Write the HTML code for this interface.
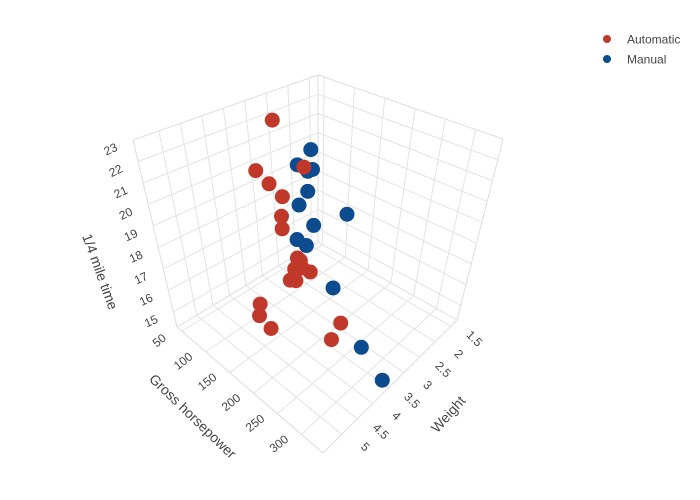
<!DOCTYPE html>
<html><head><meta charset="utf-8"><style>
html,body{margin:0;padding:0;background:#fff;}
svg{display:block;font-family:"Liberation Sans",sans-serif;}
</style></head><body>
<svg id="chart" width="700" height="500" viewBox="0 0 700 500">
<defs><clipPath id="sceneclip"><rect x="0" y="0" width="590" height="461"/></clipPath></defs>
<g id="scene" clip-path="url(#sceneclip)">
<g id="grid"></g>
<g id="ticks"></g>
<g id="titles">
<text x="0" y="0" transform="translate(99,272) rotate(70)" text-anchor="middle" dominant-baseline="middle" font-size="14" fill="#444">1/4 mile time</text>
<text x="0" y="0" transform="translate(192,417) rotate(44)" text-anchor="middle" dominant-baseline="middle" font-size="14" fill="#444">Gross horsepower</text>
<text x="0" y="0" transform="translate(449,415) rotate(-48)" text-anchor="middle" dominant-baseline="middle" font-size="14" fill="#444">Weight</text>
</g>
<g id="points"></g>
</g>
<g id="legend">
<g><circle cx="607" cy="39" r="4" fill="#BF382A"/><text x="627" y="43.5" font-size="12" fill="#444">Automatic</text></g>
<g><circle cx="607" cy="59" r="4" fill="#0C4B8E"/><text x="627" y="63.5" font-size="12" fill="#444">Manual</text></g>
</g>
</svg>
<script>
// mtcars data
const weights = [2.620,2.875,2.320,3.215,3.440,3.460,3.570,3.190,3.150,3.440,3.440,4.070,3.730,3.780,5.250,5.424,5.345,2.200,1.615,1.835,2.465,3.520,3.435,3.840,3.845,1.935,2.140,1.513,3.170,2.770,3.570,2.780];
const horsepower = [110,110,93,110,175,105,245,62,95,123,123,180,180,180,205,215,230,66,52,65,97,150,150,245,175,66,91,113,264,175,335,109];
const qsec = [16.46,17.02,18.61,19.44,17.02,20.22,15.84,20.00,22.90,18.30,18.90,17.40,17.60,18.00,17.98,17.82,17.42,19.47,18.52,19.90,20.01,16.87,17.30,15.41,17.05,18.90,16.70,16.90,14.50,15.50,14.60,18.60];
const transmission = [1,1,1,0,0,0,0,0,0,0,0,0,0,0,0,0,0,1,1,1,0,0,0,0,0,1,1,1,1,1,1,1];
const wtTicks = [1.5,2,2.5,3,3.5,4,4.5,5];
const wtTickLabels = ["1.5","2","2.5","3","3.5","4","4.5","5"];
const hpTicks = [50,100,150,200,250,300];
const hpTickLabels = ["50","100","150","200","250","300"];
const qsecTicks = [15,16,17,18,19,20,21,22,23];
const qsecTickLabels = ["15","16","17","18","19","20","21","22","23"];
const hpRange = [40,345];
const wtRange = [1.3,5.6];
const qsecRange = [14.3,23.0];

const NS = "http://www.w3.org/2000/svg";
const floorC = {B:[318,242], L:[177,327], R:[457,320], F:[323,453]};
const topC = {B:[318,75], L:[133,140], R:[503,139], F:[323,250]};
function bil(c,u,v){
  const wB=(1-u)*(1-v), wL=(1-u)*v, wR=u*(1-v), wF=u*v;
  return [wB*c.B[0]+wL*c.L[0]+wR*c.R[0]+wF*c.F[0], wB*c.B[1]+wL*c.L[1]+wR*c.R[1]+wF*c.F[1]];
}
function proj(u,v,w){
  const a=bil(floorC,u,v), b=bil(topC,u,v);
  return [a[0]+(b[0]-a[0])*w, a[1]+(b[1]-a[1])*w];
}
const uS = h => (h-hpRange[0])/(hpRange[1]-hpRange[0]);
const vS = x => (x-wtRange[0])/(wtRange[1]-wtRange[0]);
const wS = q => (q-qsecRange[0])/(qsecRange[1]-qsecRange[0]);

const grid = document.getElementById('grid');
function line(p,q,name,color){
  const a=proj(...p), b=proj(...q);
  const l=document.createElementNS(NS,'line');
  l.setAttribute('x1',a[0]);l.setAttribute('y1',a[1]);l.setAttribute('x2',b[0]);l.setAttribute('y2',b[1]);
  l.setAttribute('stroke',color||'#e3e3e3');l.setAttribute('stroke-width','1');
  
  
  grid.appendChild(l);
}
[[[0,0,0],[0,1,0]],[[0,0,0],[1,0,0]],[[0,1,0],[1,1,0]],[[1,0,0],[1,1,0]],
 [[0,0,0],[0,0,1]],[[0,1,0],[0,1,1]],[[1,0,0],[1,0,1]],[[0,0,1],[0,1,1]],[[0,0,1],[1,0,1]]]
 .forEach(e=>line(e[0],e[1],'box-edge','#dcdcdc'));
hpTicks.forEach(h=>{const u=uS(h); line([u,0,0],[u,1,0],'hp-floor-gridline'); line([u,0,0],[u,0,1],'hp-wall-gridline');});
wtTicks.forEach(x=>{const v=vS(x); line([0,v,0],[1,v,0],'wt-floor-gridline'); line([0,v,0],[0,v,1],'wt-wall-gridline');});
qsecTicks.forEach(q=>{const w=wS(q); line([0,0,w],[0,1,w],'qsec-left-wall-gridline'); line([0,0,w],[1,0,w],'qsec-right-wall-gridline');});

const ticks = document.getElementById('ticks');
function label(pos,off,rot,txt,name){
  const t=document.createElementNS(NS,'text');
  const x=pos[0]+off[0], y=pos[1]+off[1];
  t.setAttribute('transform','translate('+x+','+y+') rotate('+rot+')');
  t.setAttribute('text-anchor','middle');t.setAttribute('dominant-baseline','middle');
  t.setAttribute('font-size','12');t.setAttribute('fill','#444');
  t.textContent=txt;
  
  
  ticks.appendChild(t);
}
qsecTicks.forEach((q,i)=>label(proj(0,1,wS(q)),[-22,10],-25,qsecTickLabels[i],'z-tick-label'));
hpTicks.forEach((h,i)=>label(proj(uS(h),1,0),[-22,10],-38,hpTickLabels[i],'y-tick-label'));
wtTicks.forEach((x,i)=>label(proj(1,vS(x),0),[23,13],45,wtTickLabels[i],'x-tick-label'));

const pts = document.getElementById('points');
const idx = weights.map((_,i)=>i).sort((a,b)=>(uS(horsepower[a])+vS(weights[a]))-(uS(horsepower[b])+vS(weights[b])));
idx.forEach(i=>{
  const p=proj(uS(horsepower[i]),vS(weights[i]),wS(qsec[i]));
  const c=document.createElementNS(NS,'circle');
  c.setAttribute('cx',p[0]);c.setAttribute('cy',p[1]);c.setAttribute('r','7.5');
  c.setAttribute('fill',transmission[i]?'#0C4B8E':'#BF382A');
  
  
  pts.appendChild(c);
});
</script>
</body></html>
